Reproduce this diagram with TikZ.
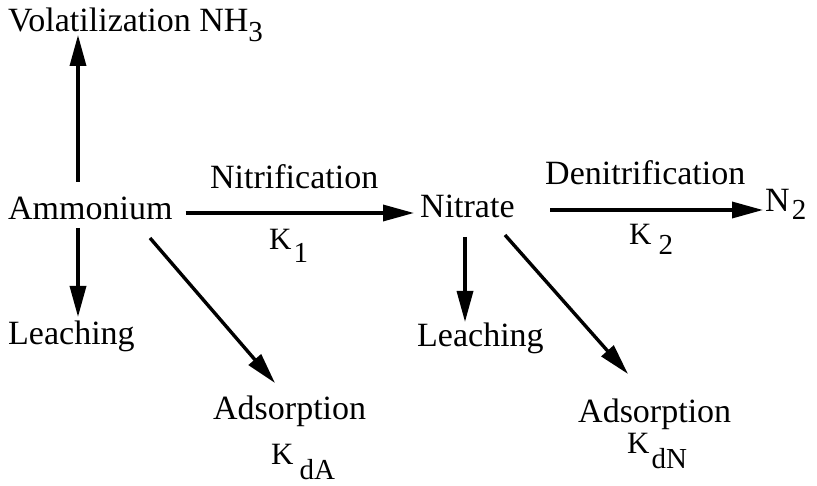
\documentclass[tikz,border=0pt]{standalone}
\usepackage{fontspec}
\setmainfont{Liberation Serif}
\usetikzlibrary{arrows.meta}
% lowered index text, e.g. the 3 in NH3
\newcommand\lowtxt[2]{\raisebox{-#1}{\fontsize{29}{32}\selectfont #2}}
\begin{document}
\begin{tikzpicture}[x=1pt,y=-1pt,
  lbl/.style={inner sep=0pt, anchor=base west, font=\fontsize{34}{40}\selectfont},
  rate/.style={lbl, font=\fontsize{31}{36}\selectfont},
  flow/.style={line width=3.4pt, -{Triangle[length=31pt,width=16pt]}}]
\useasboundingbox (0,0) rectangle (817,486);

% species and sinks
\node[lbl] (vol)    at (8,32)    {Volatilization NH\lowtxt{10pt}{3}};
\node[lbl] (amm)    at (8,220)   {Ammonium};
\node[lbl] (nit)    at (420,218) {Nitrate};
\node[lbl] (n2)     at (765,212) {N\hspace{2pt}\lowtxt{8pt}{2}};
\node[lbl] (leachA) at (8,345)   {Leaching};
\node[lbl] (leachN) at (417,347) {Leaching};
\node[lbl] (adsA)   at (213,420) {Adsorption};
\node[lbl] (adsN)   at (578,422) {Adsorption};

% process labels and rate constants
\node[lbl]  (nitrif) at (210,189) {Nitrification};
\node[lbl]  (denit)  at (545,185) {Denitrification};
\node[rate] (k1)     at (269,250) {K\hspace{2pt}\lowtxt{13pt}{1}};
\node[rate] (k2)     at (629,245) {K\hspace{7pt}\lowtxt{10pt}{2}};
\node[rate] (kdA)    at (271,464) {K\hspace{6pt}\lowtxt{15pt}{dA}};
\node[rate] (kdN)    at (627,453) {K\hspace{2pt}\lowtxt{16pt}{dN}};

% transfers
\draw[flow] ([shift={(70,-38)}]amm.base west) -- ([shift={(70,3)}]vol.base west);
\draw[flow] ([shift={(70,8)}]amm.base west)   -- ([shift={(70,-28)}]leachA.base west);
\draw[flow] ([shift={(142,18)}]amm.base west) -- ([shift={(62,-37)}]adsA.base west);
\draw[flow] ([shift={(13,-7)}]amm.base east)  -- ([shift={(-6,-5)}]nit.base west);
\draw[flow] ([shift={(130,-8)}]nit.base west) -- ([shift={(-2,-2)}]n2.base west);
\draw[flow] ([shift={(45,19)}]nit.base west)  -- ([shift={(48,-25)}]leachN.base west);
\draw[flow] ([shift={(85,17)}]nit.base west)  -- ([shift={(50,-48)}]adsN.base west);
\end{tikzpicture}
\end{document}
